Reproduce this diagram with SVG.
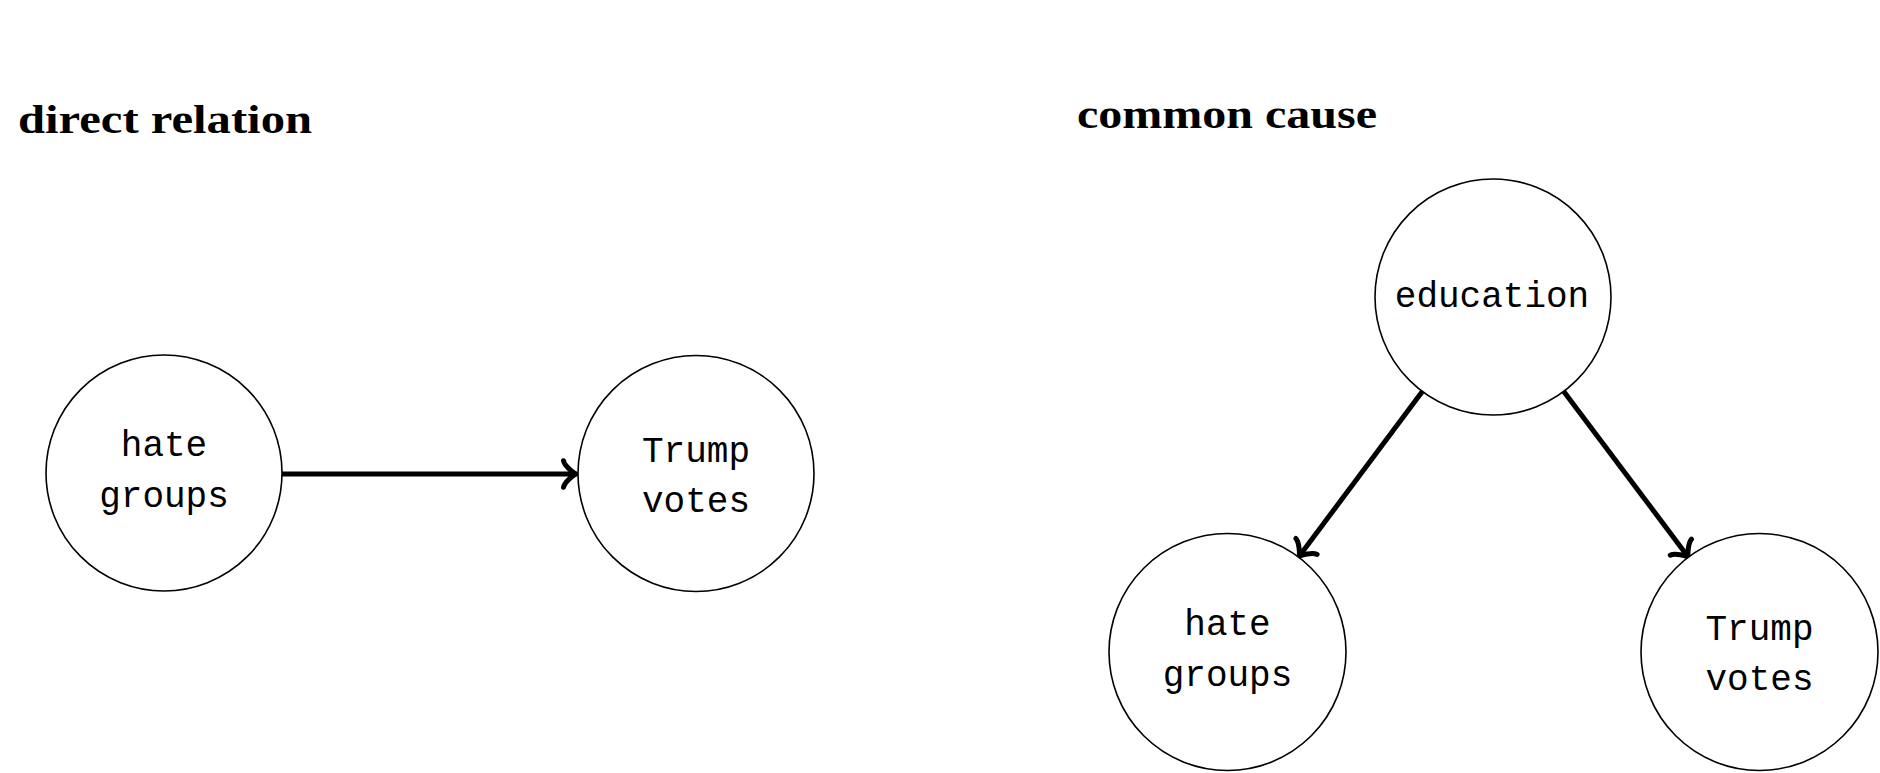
<svg xmlns="http://www.w3.org/2000/svg" width="1880" height="773" viewBox="0 0 1880 773">
<style>
.node circle{fill:#fff;stroke:#000;stroke-width:1.6}
.lbl{font-family:"Liberation Mono",monospace;font-size:36px;fill:#000;text-anchor:middle}
.title{font-family:"Liberation Serif",serif;font-weight:bold;font-size:41px;fill:#000}
.edge{stroke:#000;stroke-width:5;fill:none;marker-end:url(#to)}
</style>
<defs>
<marker id="to" markerUnits="userSpaceOnUse" orient="auto" viewBox="-16 -16 20 32" markerWidth="20" markerHeight="32" refX="0" refY="0" overflow="visible">
<path d="M -12.5,-13.3 C -11.7,-8.3 -2.5,-0.8 0,0 C -2.5,0.8 -11.7,8.3 -12.5,13.3" fill="none" stroke="#000" stroke-width="5" stroke-linecap="round" stroke-linejoin="round"/>
</marker>
</defs>
<rect width="1880" height="773" fill="#fff"/>
<text class="title" x="18" y="133" textLength="294" lengthAdjust="spacingAndGlyphs">direct relation</text>
<text class="title" x="1077" y="128" textLength="300" lengthAdjust="spacingAndGlyphs">common cause</text>
<g id="connectors">
<line class="edge" x1="282" y1="474" x2="576" y2="474"/>
<line class="edge" x1="1422.3" y1="391.5" x2="1299" y2="556.5"/>
<line class="edge" x1="1563.8" y1="391.4" x2="1688.4" y2="557.2"/>
</g>
<g id="hate1" class="node">
<circle cx="164" cy="473" r="118"/>
<text class="lbl" x="164" y="456">hate</text>
<text class="lbl" x="164" y="507">groups</text>
</g>
<g id="trump1" class="node">
<circle cx="696" cy="473.5" r="118"/>
<text class="lbl" x="696" y="461.5">Trump</text>
<text class="lbl" x="696" y="511.5">votes</text>
</g>
<g id="education" class="node">
<circle cx="1493" cy="297" r="118"/>
<text class="lbl" x="1492" y="307">education</text>
</g>
<g id="hate2" class="node">
<circle cx="1227.5" cy="652" r="118.5"/>
<text class="lbl" x="1227.5" y="635">hate</text>
<text class="lbl" x="1227.5" y="686">groups</text>
</g>
<g id="trump2" class="node">
<circle cx="1759.5" cy="652" r="118.5"/>
<text class="lbl" x="1759.5" y="640">Trump</text>
<text class="lbl" x="1759.5" y="690">votes</text>
</g>
</svg>
